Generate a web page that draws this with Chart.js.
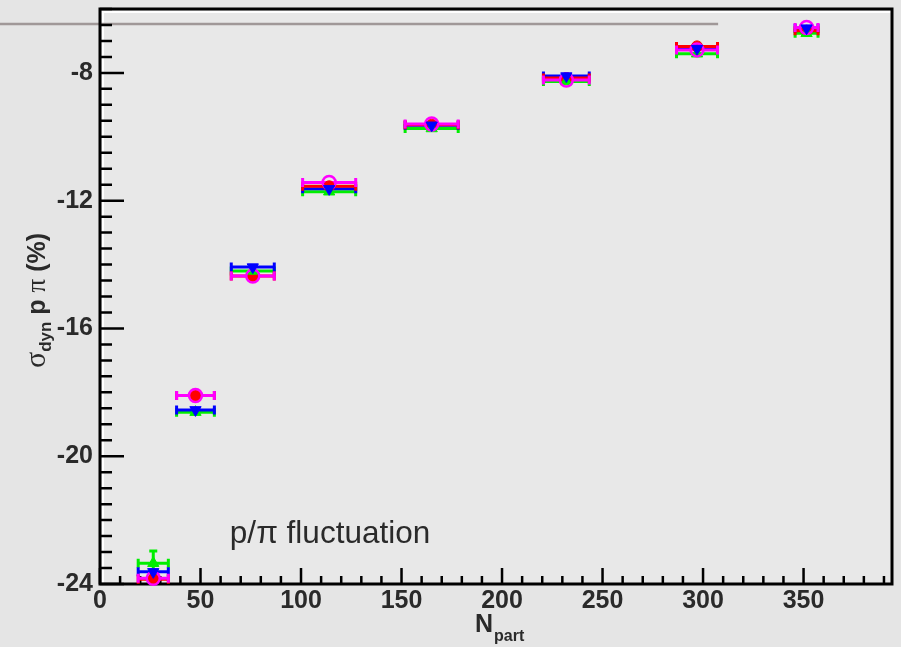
<!DOCTYPE html>
<html>
<head>
<meta charset="utf-8">
<script src="https://cdn.jsdelivr.net/npm/chart.js@4.4.1/dist/chart.umd.min.js"></script>
<style>
    html, body { margin: 0; padding: 0; background: #e5e5e5; }
    canvas { display: block; }
</style>
</head>
<body>
<canvas id="fluctChart" width="901" height="647"></canvas>
<script>
// centrality bins (N_part) and their half widths
const nPart = [26.5, 47.5, 76, 114, 165, 232, 297, 351.5];
const nPartErr = [7.5, 9.4, 10.7, 13.2, 13.2, 11.4, 10.2, 5.7];

// sigma_dyn p/pi (%) for the four series
const redValues = [-23.85, -18.1, -14.36, -11.55, -9.62, -8.16, -7.17, -6.68];
const magentaValues = [-23.82, -18.1, -14.36, -11.43, -9.6, -8.22, -7.28, -6.58];
const greenValues = [-23.35, -18.62, -14.2, -11.72, -9.74, -8.27, -7.4, -6.76];
const blueValues = [-23.62, -18.55, -14.08, -11.63, -9.64, -8.1, -7.24, -6.6];
const greenErr = [0.38, 0.05, 0.05, 0.05, 0.05, 0.05, 0.05, 0.05];

const xTicks = [0, 50, 100, 150, 200, 250, 300, 350];
const yTicks = [-24, -20, -16, -12, -8];

const labelText = 'p/\u03c0 fluctuation';
const labelPos = {x: 64.6, y: -22.72};
const greyLine = {x: [-50, 307.5], y: -6.47};

const toPoints = (values, yErr) => values.map((v, i) => ({
    x: nPart[i], y: v, xErr: nPartErr[i], yErr: yErr ? yErr[i] : 0
}));

const frameAndBars = {
    id: 'frameAndBars',
    beforeDraw(chart) {
        const ctx = chart.ctx;
        const a = chart.chartArea;
        ctx.save();
        ctx.fillStyle = '#e5e5e5';
        ctx.fillRect(0, 0, chart.width, chart.height);
        ctx.fillStyle = '#e8e8e8';
        ctx.fillRect(a.left, a.top, a.right - a.left, a.bottom - a.top);
        ctx.restore();
    },
    beforeDatasetsDraw(chart) {
        const ctx = chart.ctx;
        const a = chart.chartArea;
        const xs = chart.scales.x;
        const ys = chart.scales.y;

        ctx.save();
        // white inner edge
        ctx.strokeStyle = '#ffffff';
        ctx.lineWidth = 2;
        ctx.beginPath();
        ctx.moveTo(a.left + 3, a.bottom);
        ctx.lineTo(a.left + 3, a.top + 3);
        ctx.lineTo(a.right, a.top + 3);
        ctx.stroke();

        // grey line near the top
        ctx.strokeStyle = '#a09898';
        ctx.lineWidth = 2.5;
        ctx.beginPath();
        ctx.moveTo(xs.getPixelForValue(greyLine.x[0]), ys.getPixelForValue(greyLine.y));
        ctx.lineTo(xs.getPixelForValue(greyLine.x[1]), ys.getPixelForValue(greyLine.y));
        ctx.stroke();

        // frame
        ctx.strokeStyle = '#000000';
        ctx.lineWidth = 3;
        ctx.strokeRect(a.left, a.top, a.right - a.left, a.bottom - a.top);

        // ticks inside the frame
        ctx.lineWidth = 2.5;
        ctx.beginPath();
        for (let v = 0; v <= xs.max; v += 10) {
            const px = xs.getPixelForValue(v);
            const len = v % 50 === 0 ? 16 : 8;
            ctx.moveTo(px, a.bottom);
            ctx.lineTo(px, a.bottom - len);
        }
        for (let v = ys.min; v <= ys.max + 0.01; v += 0.5) {
            const py = ys.getPixelForValue(v);
            const len = v % 4 === 0 ? 24 : 12;
            ctx.moveTo(a.left, py);
            ctx.lineTo(a.left + len, py);
        }
        ctx.stroke();

        // error bars
        [2, 3, 0, 1].forEach(i => {
            const ds = chart.data.datasets[i];
            ctx.strokeStyle = ds.borderColor;
            ds.data.forEach(p => {
                const x0 = xs.getPixelForValue(p.x - p.xErr);
                const x1 = xs.getPixelForValue(p.x + p.xErr);
                const px = xs.getPixelForValue(p.x);
                const py = ys.getPixelForValue(p.y);
                ctx.lineWidth = 3;
                ctx.beginPath();
                ctx.moveTo(x0, py);
                ctx.lineTo(x1, py);
                ctx.moveTo(x0, py - 4.5);
                ctx.lineTo(x0, py + 4.5);
                ctx.moveTo(x1, py - 4.5);
                ctx.lineTo(x1, py + 4.5);
                if (p.yErr > 0.1) {
                    const y0 = ys.getPixelForValue(p.y - p.yErr);
                    const y1 = ys.getPixelForValue(p.y + p.yErr);
                    ctx.moveTo(px, y0);
                    ctx.lineTo(px, y1);
                    ctx.moveTo(px - 4, y1);
                    ctx.lineTo(px + 4, y1);
                    ctx.moveTo(px - 4, y0);
                    ctx.lineTo(px + 4, y0);
                }
                ctx.stroke();
            });
        });
        ctx.restore();
    },
    afterDraw(chart) {
        const ctx = chart.ctx;
        const xs = chart.scales.x;
        const ys = chart.scales.y;
        ctx.save();
        ctx.fillStyle = '#2a2a2a';
        ctx.textBaseline = 'alphabetic';

        // label in the plot
        ctx.font = '31.5px "Liberation Sans", Arial, sans-serif';
        ctx.fillText(labelText, xs.getPixelForValue(labelPos.x), ys.getPixelForValue(labelPos.y));

        // x title: N_part
        ctx.font = 'bold 25px "Liberation Sans", Arial, sans-serif';
        ctx.fillText('N', 475, 632);
        const nw = ctx.measureText('N').width;
        ctx.font = 'bold 16px "Liberation Sans", Arial, sans-serif';
        ctx.fillText('part', 475 + nw + 1, 641);

        // y title: sigma_dyn p pi (%)
        ctx.translate(45, 368);
        ctx.rotate(-Math.PI / 2);
        let cx = 0;
        const part = (text, font, dy) => {
            ctx.font = font;
            ctx.fillText(text, cx, dy);
            cx += ctx.measureText(text).width;
        };
        part('\u03c3', '30px "Liberation Serif", "DejaVu Serif", serif', 0);
        part('dyn', 'bold 17px "Liberation Sans", Arial, sans-serif', 6);
        part(' p ', 'bold 25px "Liberation Sans", Arial, sans-serif', 0);
        part('\u03c0', '27px "Liberation Serif", "DejaVu Serif", serif', 0);
        part(' (%)', 'bold 25px "Liberation Sans", Arial, sans-serif', 0);
        ctx.restore();
    }
};

const tickFont = {size: 25, weight: 'bold', family: '"Liberation Sans", Arial, sans-serif'};

new Chart(document.getElementById('fluctChart'), {
    type: 'scatter',
    data: {
        datasets: [
            {
                label: 'red',
                data: toPoints(redValues),
                pointStyle: 'circle',
                pointRadius: 5.5,
                backgroundColor: '#ff0000',
                borderColor: '#ff0000',
                borderWidth: 1,
                order: 3,
                clip: false
            },
            {
                label: 'magenta',
                data: toPoints(magentaValues),
                pointStyle: 'circle',
                pointRadius: 6.5,
                backgroundColor: 'rgba(0,0,0,0)',
                borderColor: '#ff00ff',
                borderWidth: 2.5,
                order: 1,
                clip: false
            },
            {
                label: 'green',
                data: toPoints(greenValues, greenErr),
                pointStyle: 'triangle',
                pointRadius: 6.5,
                backgroundColor: '#00ee00',
                borderColor: '#00ee00',
                borderWidth: 1,
                order: 2,
                clip: false
            },
            {
                label: 'blue',
                data: toPoints(blueValues),
                pointStyle: 'triangle',
                rotation: 180,
                pointRadius: 6.5,
                backgroundColor: '#0000ff',
                borderColor: '#0000ff',
                borderWidth: 1,
                order: 0,
                clip: false
            }
        ]
    },
    options: {
        responsive: false,
        animation: false,
        layout: {padding: {top: 7, right: 9, left: 0, bottom: 0}},
        plugins: {
            legend: {display: false},
            tooltip: {enabled: false}
        },
        scales: {
            x: {
                type: 'linear',
                min: 0,
                max: 394,
                grid: {display: false, drawTicks: false},
                border: {display: false},
                afterFit: scale => {
                    scale.height = 63;
                    scale.paddingLeft = 0;
                    scale.paddingRight = 0;
                },
                afterBuildTicks: scale => { scale.ticks = xTicks.map(v => ({value: v})); },
                ticks: {
                    color: '#2a2a2a',
                    font: tickFont,
                    padding: 2,
                    maxRotation: 0,
                    autoSkip: false
                }
            },
            y: {
                type: 'linear',
                min: -24,
                max: -6,
                grid: {display: false, drawTicks: false},
                border: {display: false},
                afterFit: scale => {
                    scale.width = 100;
                    scale.paddingTop = 0;
                    scale.paddingBottom = 0;
                },
                afterBuildTicks: scale => { scale.ticks = yTicks.map(v => ({value: v})); },
                ticks: {
                    color: '#2a2a2a',
                    font: tickFont,
                    padding: 7,
                    autoSkip: false
                }
            }
        }
    },
    plugins: [frameAndBars]
});
</script>
</body>
</html>
